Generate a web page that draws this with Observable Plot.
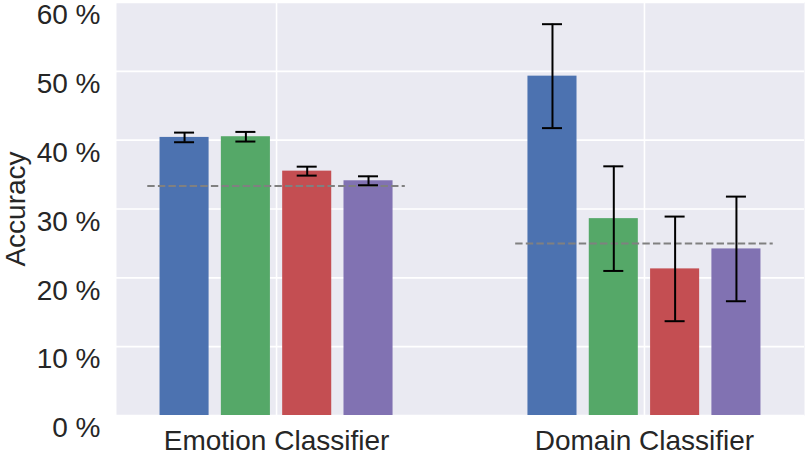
<!DOCTYPE html>
<html>
<head>
<meta charset="utf-8">
<script src="https://cdn.jsdelivr.net/npm/d3@7"></script>
<script src="https://cdn.jsdelivr.net/npm/@observablehq/plot@0.6"></script>
<style>
  html, body { margin: 0; padding: 0; background: #fff; }
  #chart { width: 806px; height: 458px; }
</style>
</head>
<body>
<div id="chart"></div>
<script>
// ---- data ----
const groups = ["Emotion Classifier", "Domain Classifier"];
const series = ["Model 1", "Model 2", "Model 3", "Model 4"];
const seriesColors = ["#4C72B0", "#55A868", "#C44E52", "#8172B2"];
const emotionMean = [40.4, 40.5, 35.5, 34.1];
const emotionStd = [0.7, 0.7, 0.65, 0.65];
const domainMean = [49.3, 28.6, 21.3, 24.2];
const domainStd = [7.55, 7.6, 7.6, 7.6];
const chanceLevel = [33.33, 25];
const yTicks = [0, 10, 20, 30, 40, 50, 60];
const yTickLabels = ["0 %", "10 %", "20 %", "30 %", "40 %", "50 %", "60 %"];
const yLabel = "Accuracy";

// ---- table built from the arrays ----
const means = [emotionMean, domainMean];
const stds = [emotionStd, domainStd];
const rows = [];
groups.forEach((g, gi) => {
  series.forEach((s, si) => {
    rows.push({group: g, gi, series: s, si, mean: means[gi][si], std: stds[gi][si]});
  });
});
const chanceRows = groups.map((g, gi) => ({group: g, gi, value: chanceLevel[gi]}));
const yTickRows = yTicks.map((v, i) => ({v, label: yTickLabels[i]}));

const step = 1 / 6;          // bar slot within a group
const barW = 0.8 * step;     // bar width
const capHalf = 0.0272;      // error-bar cap half width
const center = d => d.gi + (d.si - 1.5) * step;

const font = "'Liberation Sans', Arial, Helvetica, sans-serif";
const textColor = "#262626";

const chart = Plot.plot({
  width: 806,
  height: 458,
  marginLeft: 116,
  marginRight: 2,
  marginTop: 2,
  marginBottom: 43,
  style: {fontFamily: font, fontSize: "28px", color: textColor, background: "#fff"},
  x: {domain: [-0.435, 1.435], axis: null},
  y: {domain: [0, 60], axis: null},
  color: {domain: series, range: seriesColors},
  marks: [
    Plot.frame({fill: "#EAEAF2", stroke: "none"}),
    Plot.ruleY(yTicks, {stroke: "white", strokeWidth: 1.6}),
    Plot.ruleX(groups.map((g, i) => i), {stroke: "white", strokeWidth: 1.6}),
    Plot.rectY(rows, {
      x1: d => center(d) - barW / 2,
      x2: d => center(d) + barW / 2,
      y1: 0,
      y2: "mean",
      fill: "series"
    }),
    Plot.ruleY(chanceRows, {
      y: "value",
      x1: d => d.gi - 0.35,
      x2: d => d.gi + 0.35,
      stroke: "gray",
      strokeWidth: 2,
      strokeDasharray: "7.4,3.2"
    }),
    Plot.ruleX(rows, {
      x: center,
      y1: d => d.mean - d.std,
      y2: d => d.mean + d.std,
      stroke: "black",
      strokeWidth: 2
    }),
    Plot.ruleY(rows, {
      y: d => d.mean - d.std,
      x1: d => center(d) - capHalf,
      x2: d => center(d) + capHalf,
      stroke: "black",
      strokeWidth: 2
    }),
    Plot.ruleY(rows, {
      y: d => d.mean + d.std,
      x1: d => center(d) - capHalf,
      x2: d => center(d) + capHalf,
      stroke: "black",
      strokeWidth: 2
    }),
    // y tick labels
    Plot.text(yTickRows, {
      y: "v",
      text: "label",
      frameAnchor: "left",
      textAnchor: "end",
      lineAnchor: "middle",
      dx: -16,
      dy: 12.7,
      fill: textColor
    }),
    // x tick labels
    Plot.text(groups, {
      x: (d, i) => i,
      text: d => d,
      frameAnchor: "bottom",
      textAnchor: "middle",
      lineAnchor: "middle",
      dy: 26,
      fill: textColor
    }),
    // y axis title
    Plot.text([yLabel], {
      text: d => d,
      frameAnchor: "left",
      textAnchor: "middle",
      lineAnchor: "middle",
      rotate: -90,
      dx: -100,
      fill: textColor
    })
  ]
});
document.getElementById("chart").appendChild(chart);
</script>
</body>
</html>
